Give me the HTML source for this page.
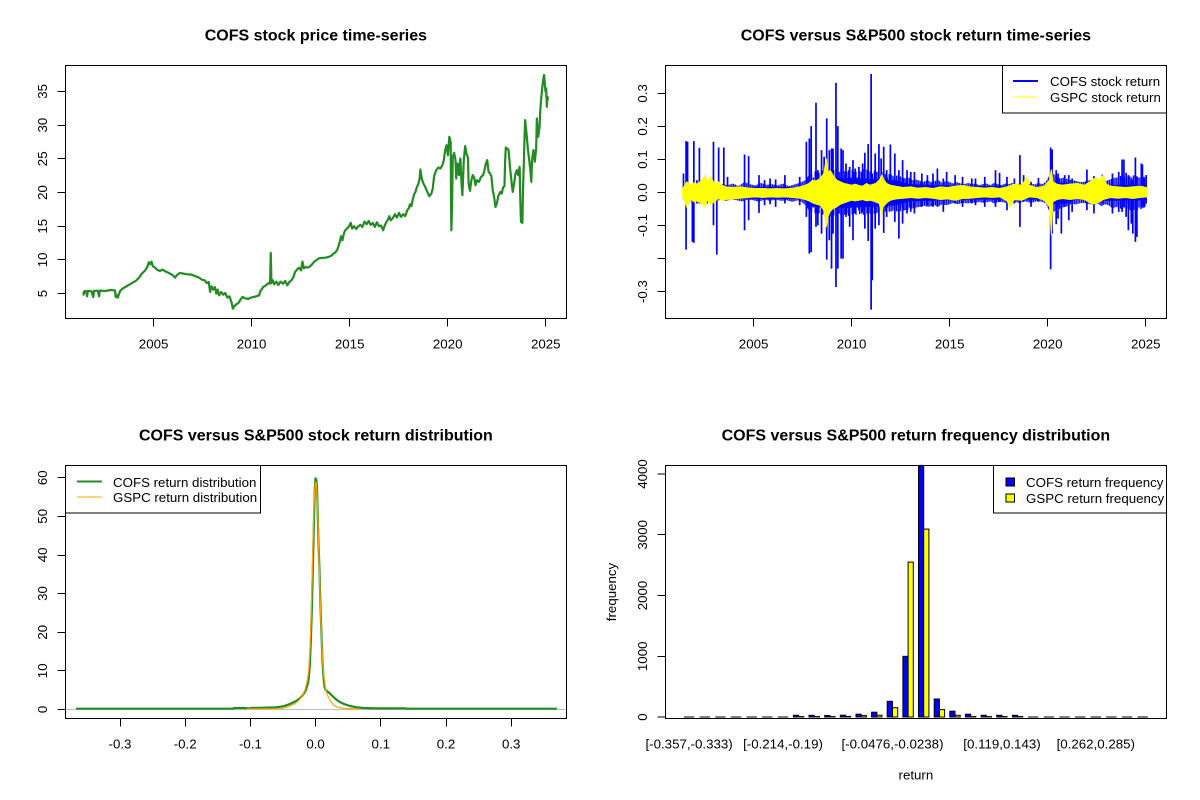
<!DOCTYPE html>
<html><head><meta charset="utf-8"><style>
html,body{margin:0;padding:0;background:#fff;}
svg{display:block;}
text{font-family:"Liberation Sans",Arial,sans-serif;font-size:13.3px;fill:#000;}
.t{font-weight:bold;font-size:16px;}
.ax{stroke:#000;stroke-width:1;fill:none;}
</style></head><body>
<svg width="1200" height="800" viewBox="0 0 1200 800" xmlns="http://www.w3.org/2000/svg">
<defs>
<pattern id="bp" patternUnits="userSpaceOnUse" x="0" y="0" width="20" height="1000">
<rect x="0" y="0" width="3.8" height="1000" fill="#0000FF"/>
<rect x="5" y="335" width="3.8" height="125" fill="#0000FF"/>
<rect x="10" y="0" width="3.8" height="1000" fill="#0000FF"/>
<rect x="15" y="352" width="3.8" height="90" fill="#0000FF"/>
</pattern>
</defs>
<rect x="0" y="0" width="1200" height="800" fill="#fff"/>

<!-- ============ Panel 1: price ============ -->
<text class="t" x="315.9" y="40.3" text-anchor="middle">COFS stock price time-series</text>
<g transform="matrix(0.34467 0 0 0.33379 39.84 60.01)">
<path vector-effect="non-scaling-stroke" fill="none" stroke="#228B22" stroke-width="2.2" stroke-linejoin="round" d="M127,693 L127,703 L130,692 L135,693 L137,708 L139,692 L150,693 L155,710 L157,692 L168,691 L172,708 L174,691 L190,692 L205,689 L212,690 L218,690 L220,710 L224,705 L226,712 L230,700 L233,692 L240,685 L248,680 L258,674 L268,668 L278,662 L288,652 L296,640 L304,632 L312,620 L316,606 L320,612 L324,604 L328,618 L334,622 L340,628 L348,632 L356,628 L362,632 L370,636 L378,640 L386,645 L392,652 L398,644 L406,638 L416,640 L428,642 L440,643 L452,648 L462,652 L470,658 L478,660 L484,668 L490,665 L494,695 L498,678 L503,688 L508,680 L512,700 L516,688 L520,705 L526,695 L532,703 L538,698 L544,712 L550,708 L556,725 L560,745 L564,738 L570,732 L576,728 L582,718 L588,710 L596,714 L604,716 L612,712 L620,710 L628,708 L636,705 L640,692 L648,680 L656,675 L664,668 L668,670 L670,578 L672,668 L676,660 L680,672 L686,664 L692,674 L698,664 L706,670 L712,662 L718,675 L724,665 L730,660 L736,650 L740,636 L746,628 L752,622 L758,630 L762,604 L766,624 L772,620 L778,622 L784,618 L790,612 L796,604 L802,600 L810,594 L820,593 L830,592 L838,590 L846,586 L852,580 L858,576 L864,566 L870,545 L874,528 L878,540 L882,520 L886,510 L890,506 L896,500 L902,488 L906,505 L912,498 L918,506 L924,498 L930,494 L936,500 L942,484 L948,492 L954,482 L960,494 L966,488 L972,500 L978,486 L984,498 L990,496 L996,510 L1000,498 L1006,484 L1010,478 L1014,468 L1018,480 L1024,474 L1030,462 L1036,472 L1042,458 L1048,470 L1054,462 L1060,468 L1066,450 L1070,445 L1074,432 L1078,438 L1082,418 L1086,402 L1090,395 L1094,380 L1098,372 L1102,355 L1104,328 L1108,355 L1112,368 L1118,380 L1124,395 L1130,408 L1136,400 L1140,385 L1144,348 L1150,330 L1156,322 L1162,325 L1168,315 L1172,300 L1176,270 L1180,255 L1184,285 L1188,230 L1192,245 L1193,430 L1194,510 L1196,430 L1198,290 L1202,278 L1206,300 L1208,355 L1212,310 L1216,345 L1220,295 L1224,380 L1226,405 L1230,300 L1234,258 L1238,282 L1242,292 L1244,370 L1248,392 L1252,360 L1256,345 L1260,352 L1264,375 L1268,360 L1274,365 L1280,350 L1286,345 L1290,330 L1294,310 L1298,300 L1302,335 L1306,340 L1310,348 L1314,390 L1318,410 L1322,440 L1326,430 L1330,408 L1336,395 L1340,400 L1344,382 L1348,378 L1350,300 L1352,262 L1356,265 L1360,270 L1364,320 L1368,360 L1372,395 L1376,370 L1380,340 L1384,330 L1388,345 L1392,320 L1394,420 L1396,485 L1400,488 L1402,380 L1404,320 L1406,240 L1408,180 L1412,220 L1416,268 L1420,300 L1424,340 L1426,365 L1428,300 L1432,270 L1436,305 L1440,265 L1442,175 L1446,230 L1450,200 L1452,150 L1455,110 L1458,80 L1461,55 L1463,45 L1465,70 L1467,95 L1469,85 L1471,140 L1473,110 L1474,120"/>
</g>
<rect class="ax" x="65.5" y="65.5" width="501" height="253"/>
<path class="ax" d="M153.5,318.5V326.5M251.5,318.5V326.5M349.5,318.5V326.5M447.5,318.5V326.5M545.5,318.5V326.5"/>
<text x="153.6" y="348.3" text-anchor="middle">2005</text>
<text x="251.6" y="348.3" text-anchor="middle">2010</text>
<text x="349.7" y="348.3" text-anchor="middle">2015</text>
<text x="447.7" y="348.3" text-anchor="middle">2020</text>
<text x="545.8" y="348.3" text-anchor="middle">2025</text>
<path class="ax" d="M57.5,293.5H65.5M57.5,259.5H65.5M57.5,226.5H65.5M57.5,192.5H65.5M57.5,158.5H65.5M57.5,125.5H65.5M57.5,91.5H65.5"/>
<text transform="translate(47 293.6) rotate(-90)" text-anchor="middle">5</text>
<text transform="translate(47 259.9) rotate(-90)" text-anchor="middle">10</text>
<text transform="translate(47 226.2) rotate(-90)" text-anchor="middle">15</text>
<text transform="translate(47 192.5) rotate(-90)" text-anchor="middle">20</text>
<text transform="translate(47 158.8) rotate(-90)" text-anchor="middle">25</text>
<text transform="translate(47 125.1) rotate(-90)" text-anchor="middle">30</text>
<text transform="translate(47 91.4) rotate(-90)" text-anchor="middle">35</text>

<!-- ============ Panel 2: returns ============ -->
<text class="t" x="915.9" y="40.3" text-anchor="middle">COFS versus S&amp;P500 stock return time-series</text>
<g transform="matrix(0.37012 0 0 0.33379 599.84 60.01)">
<polygon fill="url(#bp)" points="224,380 240,372 255,378 270,370 285,376 300,368 315,378 330,372 345,375 360,370 375,378 390,366 405,372 420,376 435,368 450,374 465,372 480,376 495,370 510,378 525,373 540,368 555,360 565,345 575,340 585,330 595,340 605,328 615,335 625,325 635,330 645,322 655,330 665,335 675,328 685,330 695,335 705,332 715,325 725,330 735,335 745,330 755,340 765,335 775,345 785,340 795,350 805,345 815,350 825,355 835,352 845,360 855,358 865,362 875,365 885,360 895,366 905,362 915,360 925,368 935,362 945,366 955,370 965,366 975,370 985,372 995,368 1005,372 1015,370 1025,375 1035,372 1045,370 1055,375 1065,368 1075,372 1085,375 1095,370 1105,372 1115,368 1125,372 1135,370 1145,372 1155,375 1165,370 1175,373 1185,368 1195,372 1205,365 1215,345 1225,340 1235,350 1245,355 1255,352 1265,358 1275,360 1285,362 1295,365 1305,366 1315,362 1325,360 1335,358 1345,362 1355,358 1365,362 1375,360 1385,355 1395,352 1405,348 1415,345 1425,350 1435,348 1445,345 1455,350 1465,352 1475,355 1478,380 1478,415 1475,440 1465,445 1455,450 1445,448 1435,452 1425,445 1415,448 1405,445 1395,440 1385,445 1375,435 1365,432 1355,438 1345,430 1335,435 1325,432 1315,430 1305,428 1295,430 1285,433 1275,430 1265,438 1255,440 1245,445 1235,450 1225,455 1215,455 1205,430 1195,425 1185,422 1175,425 1165,428 1155,425 1145,422 1135,430 1125,425 1115,428 1105,424 1095,428 1085,425 1075,426 1065,430 1055,424 1045,426 1035,428 1025,425 1015,428 1005,426 995,430 985,428 975,430 965,432 955,428 945,432 935,435 925,432 915,438 905,435 895,438 885,440 875,436 865,440 855,442 845,445 835,448 825,450 815,452 805,455 795,450 785,455 775,452 765,458 755,455 745,460 735,462 725,458 715,465 705,460 695,465 685,460 675,468 665,465 655,462 645,468 635,465 625,470 615,462 605,465 595,458 585,462 575,455 565,450 555,435 545,425 535,420 520,425 505,420 490,422 475,418 460,422 445,418 430,425 415,420 400,418 385,424 370,420 355,418 340,422 325,418 310,425 295,420 280,426 265,420 250,425 235,418 224,415"/>
<polygon fill="#0000FF" points="224,380 550,380 562,362 640,352 720,356 800,360 835,372 1000,378 1200,378 1212,366 1260,368 1285,377 1380,374 1478,374 1478,420 1380,422 1285,418 1260,430 1212,432 1200,418 1000,418 835,424 800,436 720,440 640,444 562,438 550,416 224,416"/>
<path vector-effect="non-scaling-stroke" fill="none" stroke="#0000FF" stroke-width="1.7" d="M226 340V412 M233 243V568 M237 245V405 M250 380V545 M254 243V548 M262 360V430 M269 263V430 M290 370V430 M307 245V495 M316 370V583 M321 262V420 M335 262V410 M345 350V420 M391 283V510 M402 288V480 M430 345V458 M445 360V435 M460 355V432 M475 358V440 M500 345V430 M540 350V435 M558 245V470 M566 235V580 M571 198V575 M584 128V500 M589 330V495 M599 270V520 M606 290V440 M613 175V598 M620 270V540 M626 265V625 M630 265V520 M638 68V680 M643 198V625 M652 265V595 M657 270V595 M665 310V470 M675 320V500 M684 300V540 M690 325V460 M700 320V450 M710 310V455 M716 278V505 M725 252V542 M733 42V748 M736 340V660 M744 280V505 M754 252V495 M760 295V445 M767 260V518 M775 330V470 M785 253V430 M797 280V485 M808 330V535 M818 300V490 M830 330V460 M840 335V455 M850 335V460 M870 340V440 M885 345V435 M900 340V440 M912 325V440 M928 355V455 M937 335V420 M960 345V430 M980 350V440 M1005 355V430 M1015 355V435 M1040 350V440 M1069 330V440 M1080 338V425 M1100 350V450 M1120 355V430 M1135 285V500 M1145 345V425 M1165 365V440 M1185 353V425 M1218 262V627 M1222 268V520 M1233 330V492 M1238 340V475 M1247 370V520 M1256 345V440 M1267 345V480 M1276 355V455 M1316 328V450 M1335 348V460 M1358 343V430 M1385 340V460 M1402 335V455 M1411 298V455 M1416 298V440 M1422 338V470 M1428 345V510 M1436 360V490 M1440 360V520 M1447 292V545 M1451 350V530 M1463 310V440 M1466 313V430 M1470 350V440 M1476 345V430"/>
<polygon fill="#FFFF00" stroke="#FFFF00" vector-effect="non-scaling-stroke" stroke-width="1" points="224,385 235,365 245,375 255,368 265,372 275,360 285,345 290,370 300,350 310,372 320,365 330,375 340,380 360,382 380,380 400,383 420,385 440,385 460,386 480,385 500,386 520,384 540,380 555,375 565,370 575,360 585,362 595,355 605,340 612,295 616,340 622,330 630,345 640,360 650,365 660,370 670,372 680,375 690,372 700,376 710,378 720,370 730,375 745,370 755,360 762,345 768,360 775,370 785,375 800,378 820,382 840,380 860,384 880,382 900,385 920,380 940,382 960,378 980,376 1000,380 1020,382 1040,384 1060,382 1080,385 1100,380 1120,372 1140,375 1155,350 1160,375 1180,382 1200,378 1215,360 1220,328 1224,365 1235,372 1250,375 1270,372 1290,370 1310,375 1320,368 1330,360 1340,352 1350,362 1360,345 1368,372 1380,378 1400,380 1420,382 1440,380 1460,378 1478,382 1478,410 1460,412 1440,415 1420,412 1400,414 1380,412 1360,418 1350,425 1340,430 1330,432 1320,425 1310,418 1290,415 1270,418 1250,415 1235,418 1224,425 1220,525 1215,440 1200,420 1180,412 1160,410 1140,420 1120,418 1108,440 1100,422 1080,410 1060,412 1040,410 1020,412 1000,414 980,415 960,420 940,416 920,418 900,414 880,412 860,414 840,412 820,414 800,416 785,420 775,428 765,440 762,465 755,430 745,425 730,420 720,422 710,418 700,420 690,422 680,420 670,424 660,428 650,432 640,440 630,445 622,455 616,470 612,500 605,450 595,435 585,432 575,428 565,422 555,418 540,414 520,412 500,410 480,411 460,410 440,412 420,410 400,412 380,414 360,416 340,418 330,420 320,415 310,425 300,432 290,420 285,440 275,430 265,422 255,425 245,418 235,440 228,420 224,410"/>
</g>
<rect class="ax" x="665.5" y="65.5" width="501" height="253"/>
<path class="ax" d="M753.5,318.5V326.5M851.5,318.5V326.5M949.5,318.5V326.5M1047.5,318.5V326.5M1145.5,318.5V326.5"/>
<text x="753.6" y="348.3" text-anchor="middle">2005</text>
<text x="851.6" y="348.3" text-anchor="middle">2010</text>
<text x="949.7" y="348.3" text-anchor="middle">2015</text>
<text x="1047.7" y="348.3" text-anchor="middle">2020</text>
<text x="1145.8" y="348.3" text-anchor="middle">2025</text>
<path class="ax" d="M657.5,93.5H665.5M657.5,126.5H665.5M657.5,159.5H665.5M657.5,192.5H665.5M657.5,225.5H665.5M657.5,258.5H665.5M657.5,291.5H665.5"/>
<text transform="translate(647 93.4) rotate(-90)" text-anchor="middle">0.3</text>
<text transform="translate(647 126.4) rotate(-90)" text-anchor="middle">0.2</text>
<text transform="translate(647 159.5) rotate(-90)" text-anchor="middle">0.1</text>
<text transform="translate(647 192.5) rotate(-90)" text-anchor="middle">0.0</text>
<text transform="translate(647 225.5) rotate(-90)" text-anchor="middle">-0.1</text>
<text transform="translate(647 291.6) rotate(-90)" text-anchor="middle">-0.3</text>
<rect x="1002.5" y="65.5" width="164" height="47.5" fill="#fff" stroke="#000" stroke-width="1"/>
<path d="M1013,81H1038" stroke="#0000FF" stroke-width="2"/>
<path d="M1013,97H1038" stroke="#FFFF00" stroke-width="1"/>
<text x="1050" y="86">COFS stock return</text>
<text x="1050" y="102">GSPC stock return</text>

<!-- ============ Panel 3: density ============ -->
<text class="t" x="315.9" y="440.3" text-anchor="middle">COFS versus S&amp;P500 stock return distribution</text>
<path d="M65.5,709.5H566.5" stroke="#BEBEBE" stroke-width="1"/>
<g transform="matrix(0.34467 0 0 0.33379 39.84 460.01)">
<path vector-effect="non-scaling-stroke" fill="none" stroke="#228B22" stroke-width="2.2" stroke-linejoin="round" d="M105,745 L560,745 L565,743 L590,743 L610,744 L612,743 L650,742 L685,741 L700,739 L712,736 L725,731 L740,724 L752,716 L762,706 L770,693 L776,676 L780,655 L783,620 L786,550 L789,450 L792,330 L794,240 L796,150 L798,80 L800,55 L802,58 L804,80 L806,150 L808,235 L811,320 L814,430 L817,520 L820,600 L823,650 L826,680 L830,690 L838,696 L848,706 L858,716 L870,725 L885,732 L900,737 L920,741 L940,743 L970,744 L1060,744 L1065,745 L1500,745"/>
<path vector-effect="non-scaling-stroke" fill="none" stroke="#FFA500" stroke-width="1.2" stroke-linejoin="round" d="M600,746 L700,745 L712,742 L725,737 L740,730 L752,720 L762,706 L770,686 L776,660 L780,630 L784,560 L787,470 L790,350 L793,220 L796,120 L799,72 L801,66 L803,80 L806,150 L809,260 L812,370 L815,470 L818,550 L821,610 L825,655 L830,690 L836,708 L844,722 L852,734 L862,740 L880,744 L930,746"/>
</g>
<rect class="ax" x="65.5" y="465.5" width="501" height="253"/>
<path class="ax" d="M120.5,718.5V726.5M185.5,718.5V726.5M250.5,718.5V726.5M315.5,718.5V726.5M380.5,718.5V726.5M446.5,718.5V726.5M511.5,718.5V726.5"/>
<text x="120.0" y="748.3" text-anchor="middle">-0.3</text>
<text x="185.2" y="748.3" text-anchor="middle">-0.2</text>
<text x="250.4" y="748.3" text-anchor="middle">-0.1</text>
<text x="315.6" y="748.3" text-anchor="middle">0.0</text>
<text x="380.8" y="748.3" text-anchor="middle">0.1</text>
<text x="446.0" y="748.3" text-anchor="middle">0.2</text>
<text x="511.2" y="748.3" text-anchor="middle">0.3</text>
<path class="ax" d="M57.5,709.5H65.5M57.5,670.5H65.5M57.5,632.5H65.5M57.5,593.5H65.5M57.5,555.5H65.5M57.5,516.5H65.5M57.5,477.5H65.5"/>
<text transform="translate(47 709.4) rotate(-90)" text-anchor="middle">0</text>
<text transform="translate(47 670.8) rotate(-90)" text-anchor="middle">10</text>
<text transform="translate(47 632.2) rotate(-90)" text-anchor="middle">20</text>
<text transform="translate(47 593.5) rotate(-90)" text-anchor="middle">30</text>
<text transform="translate(47 554.9) rotate(-90)" text-anchor="middle">40</text>
<text transform="translate(47 516.3) rotate(-90)" text-anchor="middle">50</text>
<text transform="translate(47 477.7) rotate(-90)" text-anchor="middle">60</text>
<rect x="65.5" y="465.5" width="195" height="47.5" fill="#fff" stroke="#000" stroke-width="1"/>
<path d="M77,481.5H102" stroke="#228B22" stroke-width="2"/>
<path d="M77,497H102" stroke="#FFA500" stroke-width="1"/>
<text x="113" y="486.8">COFS return distribution</text>
<text x="113" y="502">GSPC return distribution</text>

<!-- ============ Panel 4: histogram ============ -->
<text class="t" x="915.9" y="440.3" text-anchor="middle">COFS versus S&amp;P500 return frequency distribution</text>
<g stroke="#000" stroke-width="1">
<path d="M683.9,717H694.3M699.6,717H710M715.2,717H725.6M730.8,717H741.3M746.5,717H756.9M762.1,717H772.5M777.8,717H788.2M1028,717H1038.4M1043.7,717H1054.1M1059.3,717H1069.7M1074.9,717H1085.4M1090.6,717H1101M1106.2,717H1116.6M1121.9,717H1132.3M1137.5,717H1147.9" fill="none"/>
<g fill="#0000FF">
<rect x="793.4" y="715.3" width="5.21" height="1.7"/>
<rect x="809.0" y="715.3" width="5.21" height="1.7"/>
<rect x="824.7" y="715.5" width="5.21" height="1.5"/>
<rect x="840.3" y="715.2" width="5.21" height="1.8"/>
<rect x="856.0" y="714.2" width="5.21" height="2.8"/>
<rect x="871.6" y="712.2" width="5.21" height="4.8"/>
<rect x="887.2" y="701.3" width="5.21" height="15.7"/>
<rect x="902.9" y="656.3" width="5.21" height="60.7"/>
<rect x="918.5" y="465.4" width="5.21" height="251.6"/>
<rect x="934.2" y="699.0" width="5.21" height="18.0"/>
<rect x="949.8" y="711.2" width="5.21" height="5.8"/>
<rect x="965.5" y="714.2" width="5.21" height="2.8"/>
<rect x="981.1" y="715.3" width="5.21" height="1.7"/>
<rect x="996.7" y="715.3" width="5.21" height="1.7"/>
<rect x="1012.4" y="715.3" width="5.21" height="1.7"/>
</g>
<g fill="#FFFF00">
<rect x="798.6" y="716.6" width="5.21" height="0.4"/>
<rect x="814.3" y="716.6" width="5.21" height="0.4"/>
<rect x="829.9" y="716.6" width="5.21" height="0.4"/>
<rect x="845.5" y="716.4" width="5.21" height="0.6"/>
<rect x="861.2" y="715.6" width="5.21" height="1.4"/>
<rect x="876.8" y="715.2" width="5.21" height="1.8"/>
<rect x="892.5" y="707.7" width="5.21" height="9.3"/>
<rect x="908.1" y="562.1" width="5.21" height="154.9"/>
<rect x="923.7" y="529.1" width="5.21" height="187.9"/>
<rect x="939.4" y="709.6" width="5.21" height="7.4"/>
<rect x="955.0" y="715.3" width="5.21" height="1.7"/>
<rect x="970.7" y="716.6" width="5.21" height="0.4"/>
<rect x="986.3" y="716.6" width="5.21" height="0.4"/>
<rect x="1001.9" y="716.6" width="5.21" height="0.4"/>
<rect x="1017.6" y="716.6" width="5.21" height="0.4"/>
</g>
</g>
<rect class="ax" x="665.5" y="465.5" width="501" height="253"/>
<path class="ax" d="M657.5,717H665.5M657.5,656.5H665.5M657.5,595.5H665.5M657.5,534.5H665.5M657.5,474H665.5"/>
<text transform="translate(647 717) rotate(-90)" text-anchor="middle">0</text>
<text transform="translate(647 656.3) rotate(-90)" text-anchor="middle">1000</text>
<text transform="translate(647 595.5) rotate(-90)" text-anchor="middle">2000</text>
<text transform="translate(647 534.8) rotate(-90)" text-anchor="middle">3000</text>
<text transform="translate(647 474) rotate(-90)" text-anchor="middle">4000</text>
<text x="689.1" y="748.3" text-anchor="middle">[-0.357,-0.333)</text>
<text x="783.0" y="748.3" text-anchor="middle">[-0.214,-0.19)</text>
<text x="892.5" y="748.3" text-anchor="middle">[-0.0476,-0.0238)</text>
<text x="1002.0" y="748.3" text-anchor="middle">[0.119,0.143)</text>
<text x="1095.8" y="748.3" text-anchor="middle">[0.262,0.285)</text>
<text x="915.9" y="779.5" text-anchor="middle">return</text>
<text transform="translate(616 592) rotate(-90)" text-anchor="middle">frequency</text>
<rect x="993.5" y="465.5" width="173" height="47.5" fill="#fff" stroke="#000" stroke-width="1"/>
<rect x="1006" y="478" width="8.5" height="8" fill="#0000FF" stroke="#000" stroke-width="1"/>
<rect x="1006" y="494" width="8.5" height="8" fill="#FFFF00" stroke="#000" stroke-width="1"/>
<text x="1026" y="487">COFS return frequency</text>
<text x="1026" y="503">GSPC return frequency</text>
</svg>
</body></html>
